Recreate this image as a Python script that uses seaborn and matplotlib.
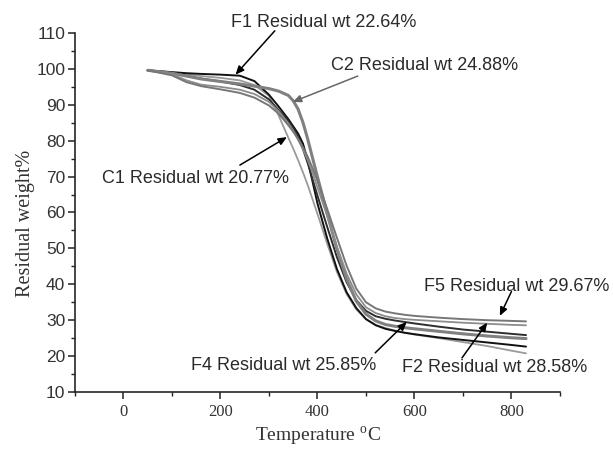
import matplotlib
matplotlib.use("Agg")
import matplotlib.pyplot as plt
from matplotlib.ticker import MultipleLocator, FixedLocator
import seaborn as sns
import pandas as pd

# Temperature grid (°C) shared by all TGA curves
temperature = [50, 100, 130, 160, 200, 240, 270, 300, 320, 340, 350, 360, 370, 380,
               390, 400, 420, 440, 460, 480, 500, 520, 540, 560, 580, 600, 650, 700,
               750, 800, 830]

# Residual weight (%) for each sample
c1 = [99.6, 99.0, 98.5, 98.0, 97.5, 96.8, 95.5, 92.5, 87.0, 80.8, 77.8, 74.6, 71.2, 67.6,
      63.6, 59.6, 51.3, 43.5, 37.3, 33.0, 30.3, 28.7, 27.8, 27.1, 26.5, 26.0, 25.0, 23.9,
      22.8, 21.5, 20.77]
f1 = [99.6, 99.1, 98.8, 98.6, 98.4, 98.1, 96.6, 92.8, 89.5, 86.0, 84.0, 82.0, 79.2, 74.5,
      68.5, 62.5, 52.8, 44.3, 37.8, 33.4, 30.3, 28.6, 27.6, 27.0, 26.5, 26.1, 25.2, 24.5,
      23.8, 23.1, 22.64]
f4 = [99.6, 98.8, 98.0, 97.3, 96.5, 95.5, 94.2, 91.5, 88.5, 85.5, 83.5, 81.0, 77.7, 73.7,
      69.2, 64.7, 56.0, 47.6, 40.6, 35.6, 32.6, 31.1, 30.4, 29.9, 29.5, 29.1, 28.2, 27.4,
      26.8, 26.2, 25.85]
c2 = [99.6, 98.8, 98.0, 97.2, 96.5, 95.8, 95.2, 94.5, 93.8, 92.6, 91.1, 88.8, 85.1, 80.4,
      75.1, 69.9, 59.7, 49.8, 41.5, 35.3, 31.7, 29.8, 28.8, 28.3, 27.9, 27.6, 26.9, 26.2,
      25.6, 25.1, 24.88]
f2 = [99.6, 98.5, 96.8, 95.6, 95.0, 94.2, 93.0, 90.8, 88.2, 84.8, 82.8, 80.3, 77.6, 74.6,
      71.0, 67.0, 59.0, 50.6, 43.0, 37.2, 33.6, 32.0, 31.1, 30.6, 30.3, 30.1, 29.7, 29.3,
      29.0, 28.7, 28.58]
f5 = [99.6, 98.2, 96.3, 95.2, 94.3, 93.3, 92.0, 89.8, 87.5, 84.3, 82.5, 80.5, 78.2, 75.5,
      72.3, 68.8, 61.0, 53.0, 45.2, 38.8, 35.0, 33.3, 32.4, 31.9, 31.5, 31.2, 30.7, 30.3,
      30.0, 29.8, 29.67]

samples = ["C1", "F1", "F4", "C2", "F2", "F5"]
residuals = [20.77, 22.64, 25.85, 24.88, 28.58, 29.67]
curves = [c1, f1, f4, c2, f2, f5]

line_colors = {"C1": "#9a9a9a", "F1": "#111111", "F4": "#2e2e2e",
               "C2": "#808080", "F2": "#8c8c8c", "F5": "#777777"}
line_widths = {"C1": 1.3, "F1": 1.4, "F4": 1.4, "C2": 2.2, "F2": 1.3, "F5": 1.4}

df = pd.concat(
    [pd.DataFrame({"T": temperature, "W": w, "sample": s}) for s, w in zip(samples, curves)],
    ignore_index=True,
)

sns.set_style("ticks")
plt.rcParams["font.family"] = ["Liberation Sans", "DejaVu Sans"]
plt.rcParams["mathtext.fontset"] = "custom"
plt.rcParams["mathtext.rm"] = "Liberation Serif"

fig = plt.figure(figsize=(6.13, 4.5), dpi=100)
ax = fig.add_axes([0.1223, 0.1289, 0.7912, 0.7978])

for s in samples:
    sub = df[df["sample"] == s]
    sns.lineplot(data=sub, x="T", y="W", color=line_colors[s], lw=line_widths[s],
                 ax=ax, legend=False)

ax.set_xlim(-100, 900)
ax.set_ylim(10, 110)
sns.despine(ax=ax)
ax.spines["left"].set_linewidth(1.2)
ax.spines["bottom"].set_linewidth(1.2)

ax.xaxis.set_major_locator(FixedLocator([0, 200, 400, 600, 800]))
ax.xaxis.set_minor_locator(FixedLocator([-100, 100, 300, 500, 700, 900]))
ax.yaxis.set_major_locator(MultipleLocator(10))
ax.yaxis.set_minor_locator(MultipleLocator(5))
ax.tick_params(which="major", direction="out", length=5, width=1.1, colors="#222222")
ax.tick_params(which="minor", direction="out", length=3, width=1.0, colors="#222222")
ax.tick_params(axis="y", labelsize=12.5, pad=2)
ax.tick_params(axis="x", labelsize=12, pad=4)
for lab in ax.get_xticklabels():
    lab.set_family("Liberation Serif")
    lab.set_color("#333333")
for lab in ax.get_yticklabels():
    lab.set_color("#333333")

ax.set_xlabel(r"Temperature $^{\rm o}$C", family="Liberation Serif", fontsize=14,
              color="#333333", labelpad=3)
ax.set_ylabel("Residual weight%", family="Liberation Serif", fontsize=14.5,
              color="#333333")
ax.yaxis.set_label_coords(-0.082, 0.47)

# Residual labels with arrows pointing at each curve
label_specs = {
    "F1": dict(text_xy=(413, 112.8), arrow_tail=(312, 110.6), arrow_head=(231, 98.4), c="black"),
    "C2": dict(text_xy=(620, 101.0), arrow_tail=(483, 98.0), arrow_head=(349, 90.8), c="#666666"),
    "C1": dict(text_xy=(149, 69.6), arrow_tail=(240, 73.2), arrow_head=(337, 81.0), c="black"),
    "F4": dict(text_xy=(330, 17.5), arrow_tail=(519, 20.9), arrow_head=(584, 29.5), c="black"),
    "F2": dict(text_xy=(765, 16.7), arrow_tail=(698, 19.5), arrow_head=(750, 29.3), c="black"),
    "F5": dict(text_xy=(810, 39.3), arrow_tail=(800, 38.0), arrow_head=(776, 31.2), c="black"),
}
for s, r in zip(samples, residuals):
    spec = label_specs[s]
    ax.text(*spec["text_xy"], f"{s} Residual wt {r:.2f}%", ha="center", va="center",
            fontsize=13, color="#2a2a2a", clip_on=False)
    ax.annotate("", xy=spec["arrow_head"], xytext=spec["arrow_tail"],
                arrowprops=dict(arrowstyle="-|>,head_length=0.5,head_width=0.22",
                                color=spec["c"], lw=1.1, shrinkA=0, shrinkB=0),
                annotation_clip=False)

fig.savefig("out.png", dpi=100)
